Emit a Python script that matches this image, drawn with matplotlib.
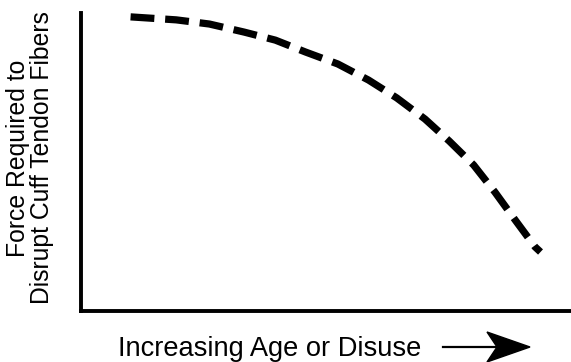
import matplotlib
matplotlib.use("Agg")
import matplotlib.pyplot as plt
from matplotlib.patches import Polygon
from matplotlib.lines import Line2D

# Data (arbitrary 0-10 units)
age = [1.00, 1.92, 2.59, 3.29, 3.92, 4.53, 5.18, 5.80, 6.37, 6.94, 7.43, 7.92, 8.35, 8.76, 9.16, 9.27]
force = [9.87, 9.77, 9.63, 9.36, 9.09, 8.69, 8.29, 7.75, 7.15, 6.44, 5.70, 4.90, 3.99, 3.05, 2.15, 1.98]

ylabel_text = "Force Required to\nDisrupt Cuff Tendon Fibers"
xlabel_text = "Increasing Age or Disuse"

W, H = 571, 362
fig = plt.figure(figsize=(W / 100, H / 100), dpi=100)
ax = fig.add_axes([81 / W, (H - 311) / H, 1 - 81 / W + 0.01, (311 - 13) / H])
ax.set_xlim(0, 10)
ax.set_ylim(0, 10)

ax.plot(age, force, color="black", lw=5.2, linestyle=(0, (3.3, 1.5)),
        dash_capstyle="butt", solid_joinstyle="round")

for s in ["top", "right"]:
    ax.spines[s].set_visible(False)
for s in ["left", "bottom"]:
    ax.spines[s].set_linewidth(2.8)
    ax.spines[s].set_color("black")
ax.set_xticks([])
ax.set_yticks([])

font = "Liberation Sans"
fig.text(30 / W, 1 - 158 / H, ylabel_text, rotation=90, ha="center", va="center",
         fontsize=17.8, family=font, linespacing=1.0, multialignment="center")
fig.text(270 / W, 1 - 356 / H, xlabel_text, ha="center", va="baseline",
         fontsize=19.6, family=font)

# Arrow next to x label
def fp(x, y):
    return (x / W, 1 - y / H)

line = Line2D([443 / W, 500 / W], [1 - 347 / H, 1 - 347 / H], transform=fig.transFigure,
              color="black", lw=1.6)
fig.add_artist(line)
head = Polygon([fp(530, 347), fp(487, 332), fp(497, 347), fp(487, 362)],
               closed=True, transform=fig.transFigure, color="black")
fig.add_artist(head)

fig.savefig("out.png", dpi=100)
